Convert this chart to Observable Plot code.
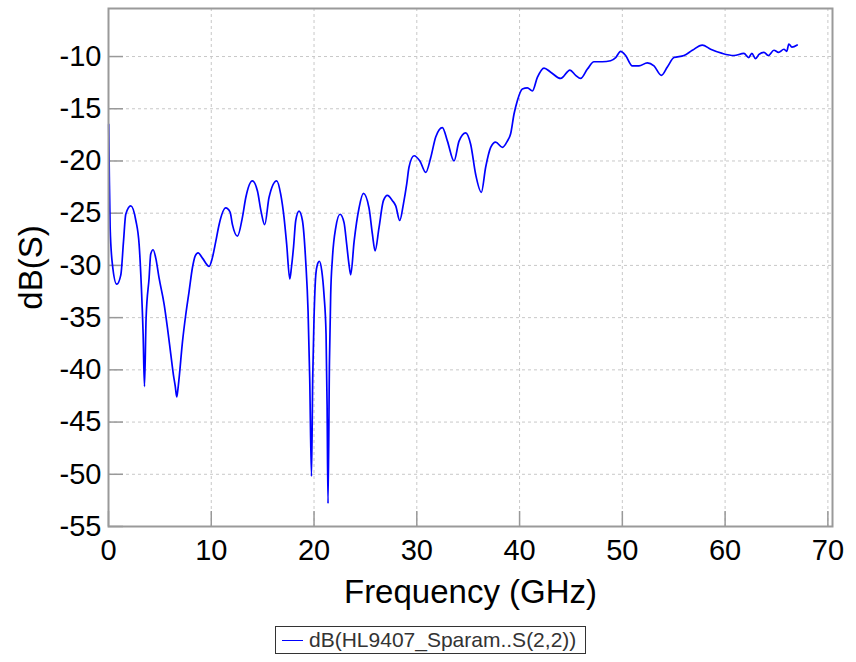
<!DOCTYPE html>
<html>
<head>
<meta charset="utf-8">
<script src="https://cdn.jsdelivr.net/npm/d3@7"></script>
<script src="https://cdn.jsdelivr.net/npm/@observablehq/plot@0.6"></script>
<style>
  html, body { margin: 0; padding: 0; background: #fff; }
  body { width: 856px; height: 662px; position: relative; font-family: "Liberation Sans", Arial, sans-serif; }
  #legend {
    position: absolute; left: 275px; top: 626px; width: 309px; height: 26px;
    border: 1px solid #333; background: #fff;
    display: flex; align-items: center; font-size: 21px; color: #333; white-space: nowrap;
  }
  #legend .swatch { display: inline-block; width: 21px; height: 0; border-top: 1.5px solid #0000ff; margin: 0 6px 0 6px; }
</style>
</head>
<body>
<div id="chart"></div>
<div id="legend"><span class="swatch"></span><span id="legendText"></span></div>
<script>
const seriesName = "dB(HL9407_Sparam..S(2,2))";
const xLabel = "Frequency (GHz)";
const yLabel = "dB(S)";
const xTicks = [0, 10, 20, 30, 40, 50, 60, 70];
const yTicks = [-10, -15, -20, -25, -30, -35, -40, -45, -50, -55];

const freqGHz = [0.02, 0.08, 0.16, 0.38, 0.8, 1.2, 1.46, 1.68, 2.17, 2.66, 2.98, 3.2, 3.37, 3.5, 3.66, 3.95, 4.11, 4.34, 4.6, 4.92,
  5.41, 5.74, 6.06, 6.32, 6.5, 6.64, 6.75, 6.87, 7.2, 7.52, 7.84, 8.17, 8.43, 8.72, 9.14, 9.79, 10.1, 10.44, 10.76, 11.41,
  11.83, 12.06, 12.55, 13.03, 13.36, 14.0, 14.5, 14.84, 15.2, 15.62, 16.37, 16.76, 17.08, 17.34, 17.64, 17.8, 18.0, 18.22, 18.54, 18.87,
  19.19, 19.42, 19.58, 19.75, 19.87, 20.0, 20.17, 20.33, 20.52, 20.75, 20.97, 21.17, 21.27, 21.36, 21.5, 21.62, 21.79, 22.11, 22.53, 22.92,
  23.18, 23.4, 23.57, 23.9, 24.38, 24.8, 25.35, 25.68, 25.94, 26.32, 26.75, 27.14, 27.63, 27.95, 28.34, 28.7, 29.02, 29.24, 29.73, 30.3,
  30.87, 31.35, 31.84, 32.49, 32.98, 33.62, 34.11, 34.76, 35.24, 35.73, 36.28, 36.7, 37.19, 37.67, 38.33, 38.81, 39.13, 39.46, 39.79, 40.27,
  40.76, 41.25, 41.73, 42.38, 43.03, 44.0, 44.9, 45.46, 45.94, 46.6, 47.24, 48.05, 48.86, 49.35, 49.83, 50.32, 50.97, 51.62, 52.43, 53.08,
  53.8, 54.38, 55.02, 56.0, 56.81, 57.78, 58.59, 59.73, 60.86, 61.83, 62.3, 62.6, 62.97, 63.3, 63.78, 64.2, 64.75, 65.2, 65.72, 66.0,
  66.2, 66.5, 67.02];
const sDb = [-16.5, -21.5, -26.4, -29.9, -31.8, -30.9, -27.7, -25.1, -24.3, -25.7, -28.0, -32.1, -36.6, -41.6, -35.0, -31.2, -28.9, -28.5, -29.3, -31.2,
  -33.7, -36.0, -38.5, -40.5, -41.6, -42.6, -41.9, -40.8, -37.3, -34.7, -32.5, -30.2, -29.1, -28.8, -29.3, -30.1, -29.3, -27.7, -26.1, -24.5,
  -24.9, -26.1, -27.2, -25.4, -23.5, -21.9, -22.9, -24.8, -26.1, -23.5, -21.9, -23.2, -25.4, -28.0, -31.3, -30.2, -28.3, -25.7, -24.8, -25.7,
  -29.6, -34.4, -40.8, -50.2, -40.8, -35.0, -30.9, -29.9, -29.6, -30.5, -32.8, -36.6, -43.3, -52.8, -39.2, -32.8, -29.3, -26.4, -25.1, -25.9,
  -28.0, -29.9, -30.9, -27.7, -24.5, -23.1, -24.5, -27.0, -28.6, -26.4, -23.8, -23.3, -23.8, -24.3, -25.7, -24.1, -22.2, -20.6, -19.5, -20.0,
  -21.1, -19.7, -17.7, -16.8, -18.1, -20.0, -18.1, -17.3, -18.4, -21.3, -23.0, -20.6, -18.7, -18.2, -18.7, -18.1, -17.4, -15.5, -14.2, -13.1,
  -13.0, -13.3, -12.0, -11.1, -11.5, -12.1, -11.3, -11.8, -12.1, -11.2, -10.5, -10.5, -10.4, -10.1, -9.5, -9.9, -10.9, -10.9, -10.6, -10.9,
  -11.8, -11.0, -10.1, -9.9, -9.4, -8.9, -9.3, -9.7, -9.9, -9.7, -10.1, -9.7, -10.2, -9.8, -9.6, -9.9, -9.4, -9.6, -9.3, -9.5,
  -8.8, -9.1, -8.9];

const data = freqGHz.map((f, i) => ({f, db: sDb[i]}));

const W = 856, H = 622;
const plot = Plot.plot({
  width: W,
  height: H,
  marginLeft: 108,
  marginRight: 24,
  marginTop: 8,
  marginBottom: 96,
  style: {fontFamily: "Liberation Sans, Arial, sans-serif", background: "#fff", color: "#000"},
  x: {domain: [0, 70.45], ticks: xTicks},
  y: {domain: [-55, -5.4], ticks: yTicks},
  marks: [
    Plot.gridX(xTicks, {stroke: "#c8c8c8", strokeOpacity: 1, strokeDasharray: "3,3"}),
    Plot.gridY(yTicks, {stroke: "#c8c8c8", strokeOpacity: 1, strokeDasharray: "3,3"}),
    Plot.axisX(xTicks, {tickSize: -15, tickPadding: 28, fontSize: 29, stroke: "#999", strokeWidth: 1.5, label: null,
      tickFormat: d => String(d)}),
    Plot.axisY(yTicks, {tickSize: -15, tickPadding: 22, fontSize: 29, stroke: "#999", strokeWidth: 1.5, label: null,
      tickFormat: d => String(d), letterSpacing: 0.5}),
    Plot.line(data, {x: "f", y: "db", stroke: "#0000ff", strokeWidth: 1.7, curve: "monotone-x"}),
    Plot.frame({stroke: "#9a9a9a", strokeWidth: 2}),
    Plot.text([xLabel], {frameAnchor: "bottom", textAnchor: "middle", lineAnchor: "middle", dy: 66,
      fontSize: 33, fill: "#000", letterSpacing: 1.6}),
    Plot.text([yLabel], {frameAnchor: "left", textAnchor: "middle", lineAnchor: "middle", dx: -77, rotate: -90,
      fontSize: 33, fill: "#000", letterSpacing: 3})
  ]
});
document.getElementById("chart").appendChild(plot);
document.getElementById("legendText").textContent = seriesName;
</script>
</body>
</html>
